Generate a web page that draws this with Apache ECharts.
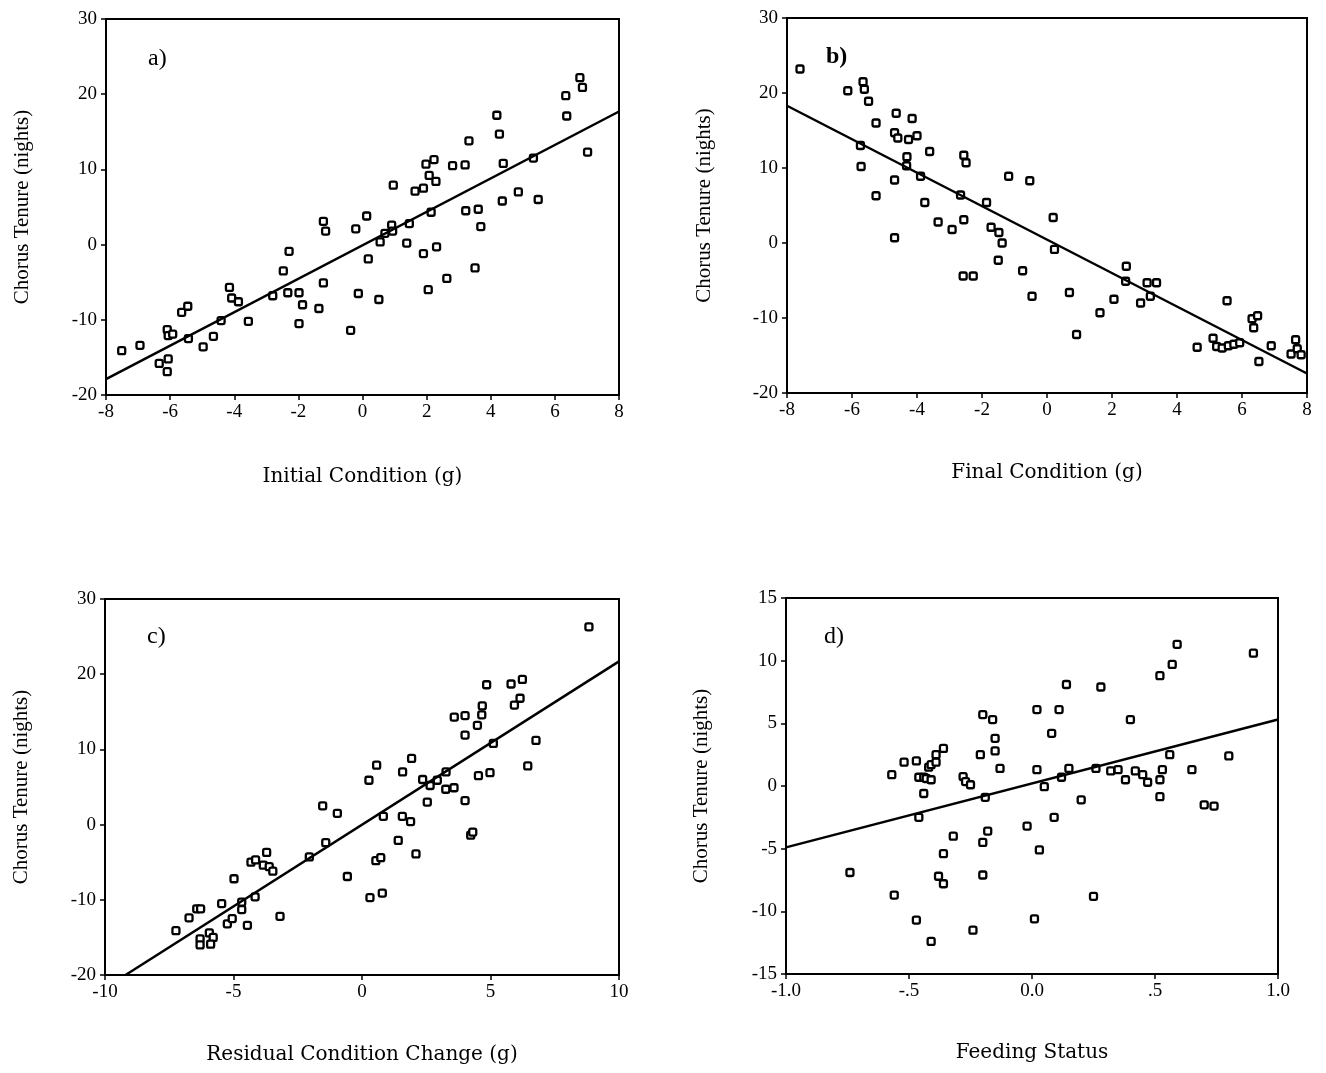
<!DOCTYPE html>
<html>
<head>
<meta charset="utf-8">
<script src="https://cdn.jsdelivr.net/npm/echarts@6/dist/echarts.min.js"></script>
<style>
  html, body { margin: 0; padding: 0; background: #fff; }
  #chart { width: 1326px; height: 1073px; }
</style>
</head>
<body>
<div id="chart"></div>
<script>
// a) Initial condition vs chorus tenure
const aX = [-7.51,-6.94,-6.34,-6.06,-6.09,-6.09,-6.06,-5.92,-5.64,-5.45,-5.43,-4.97,-4.65,-4.41,-4.15,-4.08,-3.87,-3.56,-2.80,-2.47,-2.29,-2.33,-1.98,-1.87,-1.98,-1.36,-1.22,-1.15,-1.22,-0.37,-0.21,0.13,0.18,-0.13,0.51,0.55,0.70,0.91,0.94,0.96,1.38,1.46,1.64,1.90,1.90,1.98,2.08,2.14,2.23,2.29,2.31,2.05,2.63,2.81,3.20,3.22,3.32,3.51,3.61,3.69,4.19,4.27,4.39,4.36,4.86,5.33,5.48,6.34,6.37,6.78,6.86,7.02];
const aY = [-14.1,-13.4,-15.8,-15.2,-16.9,-11.3,-12.1,-11.9,-9.0,-8.2,-12.5,-13.6,-12.2,-10.1,-5.7,-7.1,-7.6,-10.2,-6.8,-3.5,-0.9,-6.4,-6.4,-8.0,-10.5,-8.5,3.1,1.8,-5.1,-11.4,2.1,3.8,-1.9,-6.5,-7.3,0.35,1.5,2.6,1.8,7.9,0.2,2.8,7.1,7.5,-1.2,10.7,9.2,4.3,11.3,8.4,-0.3,-6.0,-4.5,10.5,10.6,4.5,13.8,-3.1,4.7,2.4,17.2,14.7,10.8,5.8,7.0,11.5,6.0,19.8,17.1,22.2,20.9,12.3];
const aFitX = [-8, 8];
const aFitY = [-17.9, 17.7];

// b) Final condition vs chorus tenure
const bX = [-7.60,-6.13,-5.66,-5.62,-5.49,-5.26,-5.74,-5.72,-5.26,-4.64,-4.69,-4.59,-4.69,-4.69,-4.15,-4.26,-4.00,-4.31,-4.32,-3.89,-3.61,-3.76,-3.35,-2.92,-2.56,-2.49,-2.66,-2.56,-2.58,-2.27,-1.86,-1.72,-1.48,-1.38,-1.50,-1.18,-0.75,-0.53,-0.46,0.19,0.23,0.69,0.91,1.63,2.06,2.44,2.42,2.88,3.08,3.37,3.18,4.62,5.11,5.22,5.39,5.58,5.75,5.93,5.54,6.31,6.48,6.36,6.52,6.90,7.51,7.65,7.70,7.82];
const bY = [23.2,20.3,21.5,20.5,18.9,16.0,13.0,10.2,6.3,17.3,14.7,14.0,8.4,0.7,16.6,13.8,14.3,11.5,10.3,8.9,12.2,5.4,2.8,1.8,11.7,10.7,6.4,3.1,-4.4,-4.4,5.4,2.1,1.4,0.0,-2.3,8.9,-3.7,8.3,-7.1,3.4,-0.85,-6.6,-12.2,-9.3,-7.5,-3.1,-5.1,-8.0,-5.3,-5.3,-7.1,-13.9,-12.7,-13.8,-14.0,-13.7,-13.5,-13.3,-7.7,-10.1,-9.7,-11.3,-15.8,-13.7,-14.8,-12.9,-14.1,-14.9];
const bFitX = [-8, 8];
const bFitY = [18.3, -17.4];

// c) Residual condition change vs chorus tenure
const cX = [-7.24,-6.73,-6.43,-6.28,-6.30,-6.30,-5.94,-5.79,-5.89,-5.46,-5.24,-5.05,-4.98,-4.68,-4.68,-4.46,-4.32,-4.14,-4.16,-3.71,-3.84,-3.61,-3.47,-3.19,-2.05,-1.53,-0.96,-1.41,-0.57,0.27,0.57,0.31,0.79,0.54,0.73,0.83,1.41,1.58,1.57,1.89,1.93,2.10,2.36,2.54,2.65,2.93,3.27,3.26,3.58,3.59,4.01,4.01,4.01,4.23,4.31,4.49,4.53,4.66,4.68,4.85,4.98,5.11,5.80,5.93,6.15,6.24,6.45,6.77,8.83];
const cY = [-14.1,-12.4,-11.2,-11.2,-15.2,-16.0,-14.4,-15.0,-15.9,-10.5,-13.2,-12.5,-7.2,-10.3,-11.3,-13.4,-5.0,-4.7,-9.6,-3.7,-5.4,-5.6,-6.2,-12.2,-4.3,2.5,1.5,-2.4,-6.9,5.9,7.9,-9.7,-9.1,-4.8,-4.4,1.1,-2.1,7.0,1.1,0.4,8.8,-3.9,6.0,3.0,5.2,5.9,7.0,4.7,4.9,14.3,14.5,11.9,3.2,-1.4,-1.0,13.2,6.5,14.6,15.8,18.6,6.9,10.8,18.7,15.9,16.8,19.3,7.8,11.2,26.3];
const cFitX = [-9.2, 10];
const cFitY = [-20, 21.7];

// d) Feeding status vs chorus tenure
const dX = [-0.74,-0.57,-0.56,-0.52,-0.47,-0.47,-0.46,-0.46,-0.44,-0.43,-0.41,-0.44,-0.42,-0.41,-0.39,-0.39,-0.36,-0.41,-0.38,-0.36,-0.36,-0.32,-0.28,-0.27,-0.25,-0.24,-0.21,-0.20,-0.20,-0.20,-0.19,-0.18,-0.16,-0.15,-0.15,-0.13,-0.02,0.02,0.02,0.01,0.03,0.05,0.08,0.09,0.11,0.12,0.14,0.15,0.20,0.25,0.26,0.28,0.32,0.35,0.38,0.40,0.42,0.45,0.47,0.52,0.52,0.53,0.52,0.56,0.57,0.59,0.65,0.70,0.74,0.80,0.90];
const dY = [-6.9,0.9,-8.7,1.9,2.0,-10.7,-2.5,0.7,0.7,0.6,0.5,-0.6,1.5,1.7,1.9,2.5,3.0,-12.4,-7.2,-7.8,-5.4,-4.0,0.75,0.35,0.1,-11.5,2.5,5.7,-4.5,-7.1,-0.9,-3.6,5.3,3.8,2.8,1.4,-3.2,6.1,1.3,-10.6,-5.1,-0.05,4.2,-2.5,6.1,0.7,8.1,1.4,-1.1,-8.8,1.4,7.9,1.2,1.3,0.5,5.3,1.2,0.9,0.3,0.5,-0.85,1.3,8.8,2.5,9.7,11.3,1.3,-1.5,-1.6,2.4,10.6];
const dFitX = [-1, 1];
const dFitY = [-4.9, 5.3];

// axis ranges and tick labels
const xTicksA = { min: -8, max: 8, interval: 2 };
const yTicksA = { min: -20, max: 30, interval: 10 };
const xTicksC = { min: -10, max: 10, interval: 5 };
const xTicksD = { min: -1, max: 1, interval: 0.5 };
const yTicksD = { min: -15, max: 15, interval: 5 };
const dTickLabels = { '-1': '-1.0', '-0.5': '-.5', '0': '0.0', '0.5': '.5', '1': '1.0' };

const yTitle = 'Chorus Tenure (nights)';
const xTitles = ['Initial Condition (g)', 'Final Condition (g)', 'Residual Condition Change (g)', 'Feeding Status'];
const panelTags = ['a)', 'b)', 'c)', 'd)'];

const SERIF = '"Liberation Serif", "Times New Roman", serif';
const WIDE_SERIF = '"DejaVu Serif", serif';

const grids = [
  { left: 106, top: 19, width: 513, height: 376 },
  { left: 787, top: 18, width: 520, height: 375 },
  { left: 105, top: 599, width: 514, height: 376 },
  { left: 786, top: 598, width: 492, height: 376 }
];

function xAxisOf(i, ticks, nameGap, fmt) {
  return {
    type: 'value', gridIndex: i, min: ticks.min, max: ticks.max, interval: ticks.interval,
    name: xTitles[i], nameLocation: 'middle', nameGap: nameGap,
    nameTextStyle: { fontFamily: WIDE_SERIF, fontSize: 20, color: '#000' },
    axisLine: { show: true, onZero: false, lineStyle: { color: '#000', width: 2 } },
    axisTick: { show: true, inside: false, length: 5, lineStyle: { color: '#000', width: 1.5 } },
    axisLabel: { margin: 8, fontFamily: SERIF, fontSize: 19, color: '#000', formatter: fmt },
    splitLine: { show: false }
  };
}
function yAxisOf(i, ticks, nameGap) {
  return {
    type: 'value', gridIndex: i, min: ticks.min, max: ticks.max, interval: ticks.interval,
    name: yTitle, nameLocation: 'middle', nameGap: nameGap, nameRotate: 90,
    nameTextStyle: { fontFamily: SERIF, fontSize: 21, color: '#000' },
    axisLine: { show: true, onZero: false, lineStyle: { color: '#000', width: 2 } },
    axisTick: { show: true, inside: false, length: 5, lineStyle: { color: '#000', width: 1.5 } },
    axisLabel: { margin: 9, fontFamily: SERIF, fontSize: 19, color: '#000' },
    splitLine: { show: false }
  };
}

function pairs(xs, ys) { return xs.map((x, k) => [x, ys[k]]); }

function scatterOf(i, xs, ys) {
  return {
    type: 'scatter', xAxisIndex: i, yAxisIndex: i, data: pairs(xs, ys),
    symbol: 'roundRect', symbolSize: 7,
    itemStyle: { color: '#fff', borderColor: '#000', borderWidth: 2.3, opacity: 1 },
    silent: true, z: 3
  };
}
function fitOf(i, xs, ys) {
  return {
    type: 'line', xAxisIndex: i, yAxisIndex: i, data: pairs(xs, ys),
    showSymbol: false, symbol: 'none', lineStyle: { color: '#000', width: 2.5 },
    silent: true, z: 4
  };
}

const chart = echarts.init(document.getElementById('chart'), null, { renderer: 'canvas' });
chart.setOption({
  backgroundColor: '#fff',
  animation: false,
  grid: grids.map(g => Object.assign({ show: true, borderColor: '#000', borderWidth: 2, backgroundColor: 'transparent' }, g)),
  xAxis: [
    xAxisOf(0, xTicksA, 72),
    xAxisOf(1, xTicksA, 70),
    xAxisOf(2, xTicksC, 70),
    xAxisOf(3, xTicksD, 69, v => dTickLabels[String(v)] ?? String(v))
  ],
  yAxis: [
    yAxisOf(0, yTicksA, 73),
    yAxisOf(1, yTicksA, 72),
    yAxisOf(2, yTicksA, 73),
    yAxisOf(3, yTicksD, 74)
  ],
  series: [
    scatterOf(0, aX, aY), fitOf(0, aFitX, aFitY),
    scatterOf(1, bX, bY), fitOf(1, bFitX, bFitY),
    scatterOf(2, cX, cY), fitOf(2, cFitX, cFitY),
    scatterOf(3, dX, dY), fitOf(3, dFitX, dFitY)
  ],
  graphic: [
    { type: 'text', left: 148, top: 47, style: { text: panelTags[0], font: '24px ' + SERIF, fill: '#000' } },
    { type: 'text', left: 826, top: 45, style: { text: panelTags[1], font: 'bold 24px ' + SERIF, fill: '#000' } },
    { type: 'text', left: 147, top: 625, style: { text: panelTags[2], font: '24px ' + SERIF, fill: '#000' } },
    { type: 'text', left: 824, top: 625, style: { text: panelTags[3], font: '24px ' + SERIF, fill: '#000' } }
  ]
});
</script>
</body>
</html>
